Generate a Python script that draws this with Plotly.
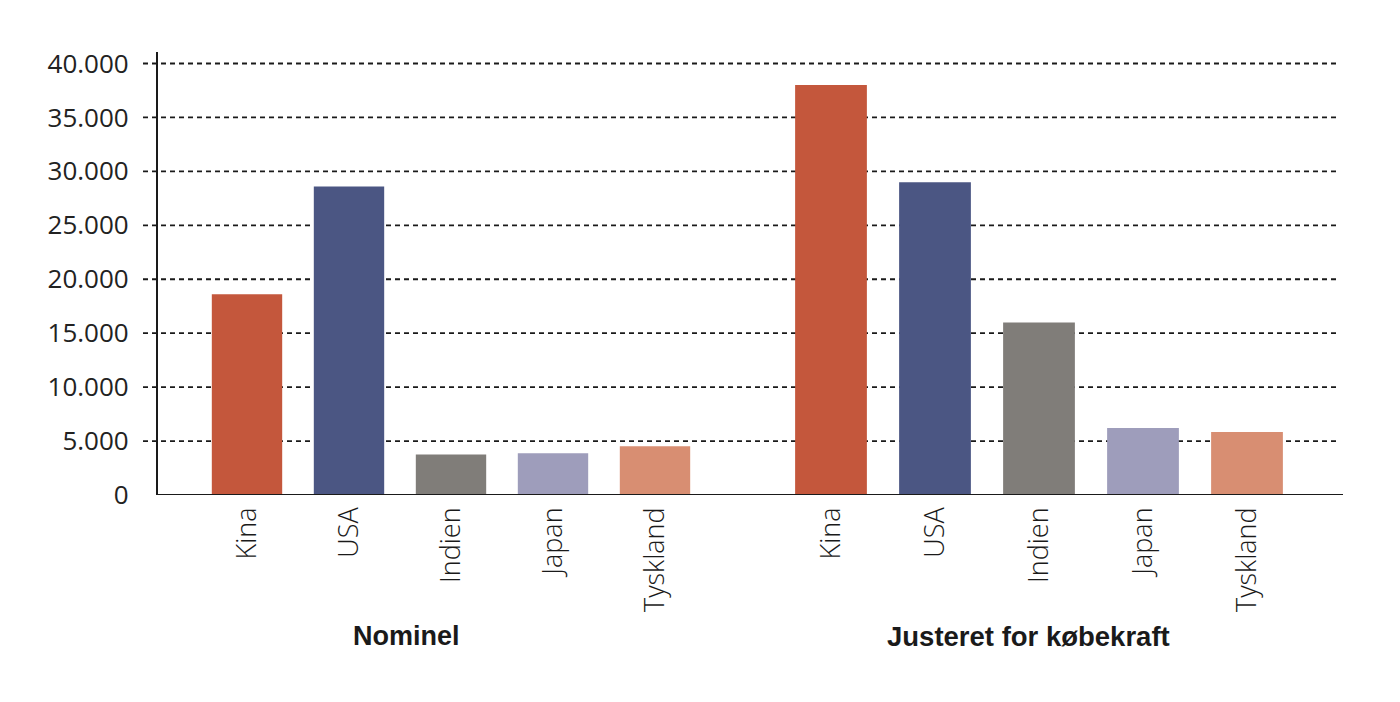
import plotly.graph_objects as go

# ---- data ----
countries = ["Kina", "USA", "Indien", "Japan", "Tyskland"]
nominal = [18600, 28600, 3750, 3880, 4530]
ppp = [38000, 29000, 16000, 6200, 5850]
bar_colors = ["#C4573C", "#4B5683", "#807D79", "#9E9DBB", "#D88E72"]
group_titles = ["Nominel", "Justeret for købekraft"]
ytick_vals = [0, 5000, 10000, 15000, 20000, 25000, 30000, 35000, 40000]
ytick_text = ["0", "5.000", "10.000", "15.000", "20.000", "25.000", "30.000", "35.000", "40.000"]

# page has an 8px body margin; figure sized to fit inside the window
OFF = 8
W, H = 1400 - 2 * OFF, 702 - 2 * OFF
# target page-pixel positions
LEFT, RIGHT, TOP, BOTTOM = 157, 1340, 52, 495
ML, MT = LEFT - OFF, TOP - OFF
MR = W - (RIGHT - OFF)
MB = H - (BOTTOM - OFF)
PW = RIGHT - LEFT
PH = BOTTOM - TOP

def px(x):
    return (x - LEFT) / PW

fig = go.Figure()
fig.add_trace(go.Bar(x=countries, y=nominal, marker=dict(color=bar_colors, line=dict(width=0)),
                     xaxis="x", yaxis="y", showlegend=False, hoverinfo="x+y"))
fig.add_trace(go.Bar(x=countries, y=ppp, marker=dict(color=bar_colors, line=dict(width=0)),
                     xaxis="x2", yaxis="y", showlegend=False, hoverinfo="x+y"))

tickfont_x = dict(family="Open Sans", size=27, color="#1a1a1a", weight=300)
common_x = dict(type="category", showgrid=False, showline=False, zeroline=False,
                tickangle=-90, tickfont=tickfont_x, ticks="", ticklabelstandoff=6,
                fixedrange=True)

shapes = []
for v in ytick_vals:
    if v == 0:
        continue
    shapes.append(dict(type="line", xref="paper", yref="y", x0=px(143), x1=1, y0=v, y1=v,
                       line=dict(color="#1a1a1a", width=1.8, dash="5px,4px"), layer="below"))
shapes.append(dict(type="line", xref="paper", yref="y", x0=0, x1=px(1343), y0=0, y1=0,
                   line=dict(color="#1a1a1a", width=2.2)))

title_y = -(636 - BOTTOM) / PH
annotations = [
    dict(text=f"<b>{group_titles[0]}</b>", xref="paper", yref="paper", x=px(406), y=title_y,
         xanchor="center", yanchor="middle", showarrow=False,
         font=dict(family="Liberation Sans", size=27, color="#1a1a1a")),
    dict(text=f"<b>{group_titles[1]}</b>", xref="paper", yref="paper", x=px(1028), y=title_y,
         xanchor="center", yanchor="middle", showarrow=False,
         font=dict(family="Liberation Sans", size=27.5, color="#1a1a1a")),
]

fig.update_layout(
    width=W, height=H,
    margin=dict(l=ML, r=MR, t=MT, b=MB, autoexpand=False),
    paper_bgcolor="white", plot_bgcolor="white",
    bargap=0.31,
    xaxis=dict(domain=[px(196), px(706)], anchor="y", **common_x),
    xaxis2=dict(domain=[px(779), px(1299)], anchor="y", **common_x),
    yaxis=dict(range=[0, 41066], anchor="free", position=0, showgrid=False, zeroline=False,
               showline=True, linecolor="#1a1a1a", linewidth=2.2,
               tickmode="array", tickvals=ytick_vals, ticktext=ytick_text,
               ticks="", ticklabelstandoff=22,
               tickfont=dict(family="Open Sans", size=26, color="#222222", weight=400),
               fixedrange=True),
    shapes=shapes,
    annotations=annotations,
)

fig.write_html("out.html")
